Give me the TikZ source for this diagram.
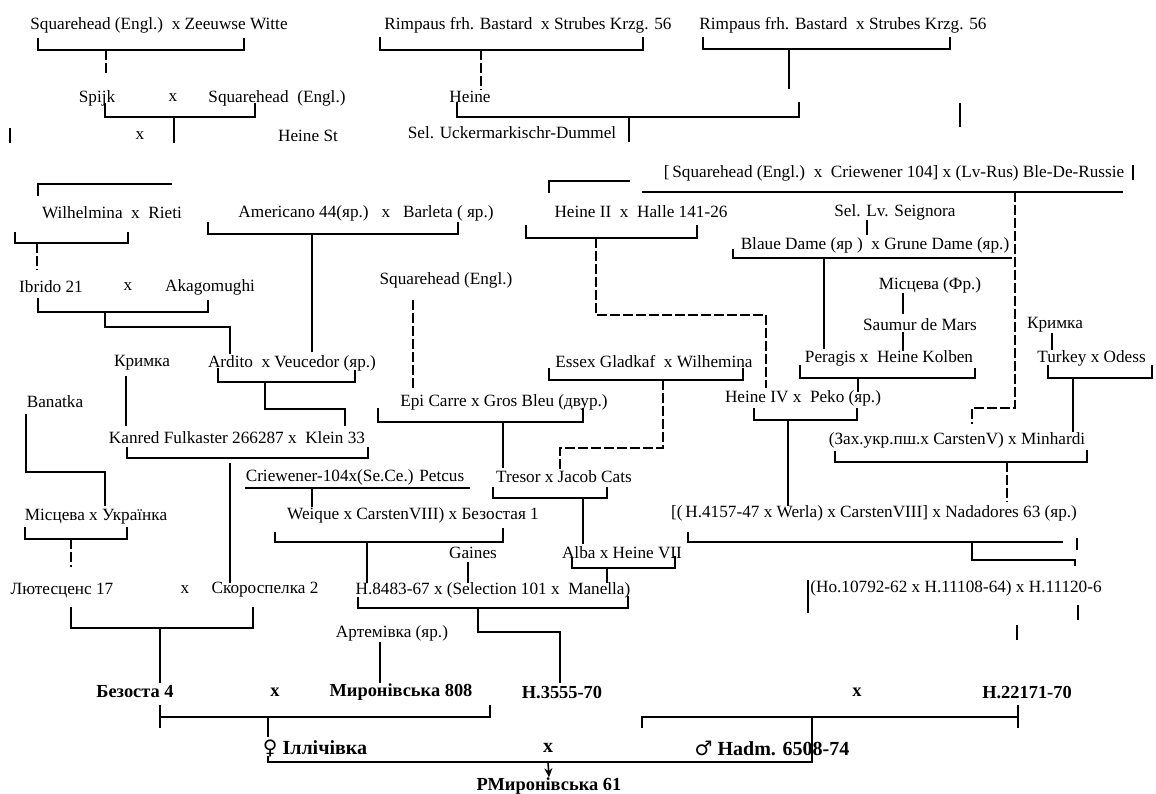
\documentclass[tikz,border=0pt]{standalone}
\usepackage{fontspec}
\setmainfont{Liberation Serif}
\newfontfamily\symfont{DejaVu Sans}
\usepackage{tikz}
\usetikzlibrary{arrows.meta}
\tikzset{
  breed/.style={inner sep=0pt, font=\fontsize{8.6}{10}\selectfont},
  parent/.style={inner sep=0pt, font=\fontsize{9.2}{11}\selectfont\bfseries},
  mainpar/.style={inner sep=0pt, font=\fontsize{10}{12}\selectfont\bfseries},
  link/.style={line width=0.6pt, color=black},
  dlink/.style={link, dash pattern=on 5pt off 1.5pt},
  arrow/.style={-{Stealth[length=4.5pt, width=4pt]}, line width=0.8pt, color=black}
}

\begin{document}
\begin{tikzpicture}[x=0.5pt, y=-0.5pt]
  \useasboundingbox (0,0) rectangle (1156,793);

  % Top rows
  \node[breed] (sqzw) at (159,25) {Squarehead (Engl.)\ \ x Zeeuwse Witte};
  \node[breed] (rimp1) at (528,25) {Rimpaus frh. Bastard\ \ x Strubes Krzg. 56};
  \node[breed] (rimp2) at (843,25) {Rimpaus frh. Bastard\ \ x Strubes Krzg. 56};
  \node[breed] (spijk) at (97,98) {Spijk};
  \node[breed] (x1) at (173,98) {x};
  \node[breed] (sqe1) at (277,98) {Squarehead\ \ (Engl.)};
  \node[breed] (heine) at (470,97) {Heine};
  \node[breed] (x2) at (140,136) {x};
  \node[breed] (heinest) at (308,136) {Heine St};
  \node[breed] (selu) at (512,133) {Sel. Uckermarkischr-Dummel};

  \draw[link] (10,128) -- (10,143);
  \draw[link] (38,38) -- (38,50) -- (244,50) -- (244,38);
  \draw[dlink] (106,50) -- (106,75);
  \draw[link] (105,103) -- (105,117) -- (255,117) -- (255,103);
  \draw[link] (174,117) -- (174,143);
  \draw[link] (380,37) -- (380,50) -- (643,50) -- (643,37);
  \draw[dlink] (481,50) -- (481,90);
  \draw[link] (457,102) -- (457,117) -- (799,117) -- (799,102);
  \draw[link] (629,117) -- (629,142);
  \draw[link] (703,37) -- (703,49) -- (950,49) -- (950,37);
  \draw[link] (789,49) -- (789,89);
  \draw[link] (960,103) -- (960,127);

  % Second block
  \node[breed] (sqcr) at (894,173) {[\,Squarehead (Engl.)\ \ x\ \ Criewener 104]\ x (Lv-Rus) Ble-De-Russie};
  \node[breed] (wilh) at (112,213) {Wilhelmina\ \ x\ \ Rieti};
  \node[breed] (amer) at (366,213) {Americano 44(яр.)\ \ \ x\ \ \ Barleta ( яр.)};
  \node[breed] (heine2) at (641,212) {Heine II\ \ x\ \ Halle 141-26};
  \node[breed] (sellv) at (895,212) {Sel. Lv. Seignora};
  \node[breed] (blaue) at (875,245) {Blaue Dame (яр )\ \ x Grune Dame (яр.)};
  \node[breed] (sqe2) at (446,280) {Squarehead (Engl.)};
  \node[breed] (misc1) at (930,285) {Місцева (Фр.)};
  \node[breed] (ibrido) at (51,287) {Ibrido 21};
  \node[breed] (x3) at (128,287) {x};
  \node[breed] (akago) at (210,287) {Akagomughi};
  \node[breed] (saumur) at (920,325) {Saumur de Mars};
  \node[breed] (krym2) at (1055,325) {Кримка};

  \draw[link] (1133,165) -- (1133,180);
  \draw[link] (38,196) -- (38,184) -- (172,184);
  \draw[link] (15,232) -- (15,243) -- (128,243) -- (128,232);
  \draw[dlink] (37,243) -- (37,270);
  \draw[link] (208,222) -- (208,234) -- (458,234) -- (458,222);
  \draw[link] (312,234) -- (312,352);
  \draw[link] (549,193) -- (549,181) -- (630,181);
  \draw[link] (642,192) -- (1123,192);
  \draw[dlink] (1015,192) -- (1015,408) -- (972,408) -- (972,424);
  \draw[link] (526,225) -- (526,238) -- (697,238) -- (697,225);
  \draw[dlink] (596,238) -- (596,315) -- (766,315) -- (766,388);
  \draw[link] (867,220) -- (867,235);
  \draw[link] (733,249) -- (733,258) -- (1012,258);
  \draw[link] (824,258) -- (824,349);
  \draw[link] (903,293) -- (903,314);
  \draw[link] (903,332) -- (903,351);
  \draw[dlink] (413,300) -- (413,390);
  \draw[link] (38,298) -- (38,312) -- (208,312) -- (208,300);
  \draw[link] (105,312) -- (105,327) -- (230,327) -- (230,354);
  \draw[link] (1052,333) -- (1052,350);

  % Third block
  \node[breed] (krym1) at (142,363) {Кримка};
  \node[breed] (ardito) at (292,363) {Ardito\ \ x Veucedor (яр.)};
  \node[breed] (essex) at (654,362) {Essex Gladkaf\ \ x Wilhemina};
  \node[breed] (peragis) at (889,358) {Peragis x\ \ Heine Kolben};
  \node[breed, anchor=west] (turkey) at (1037,358) {Turkey x Odess};
  \node[breed] (banatka) at (55,402) {Banatka};
  \node[breed] (epi) at (504,402) {Epi Carre x Gros Bleu (двур.)};
  \node[breed] (heine4) at (803,398) {Heine IV x\ \ Peko (яр.)};
  \node[breed] (kanred) at (237,438) {Kanred Fulkaster 266287 x\ \ Klein 33};
  \node[breed] (zakh) at (957,440) {(Зах.укр.пш.x CarstenV) x Minhardi};
  \node[breed] (criew) at (355,477) {Criewener-104x(Se.Ce.) Petcus};
  \node[breed] (tresor) at (564,477) {Tresor x Jacob Cats};

  \draw[link] (218,368) -- (218,382) -- (355,382) -- (355,370);
  \draw[link] (265,382) -- (265,409) -- (345,409) -- (345,426);
  \draw[link] (126,376) -- (126,426);
  \draw[link] (26,414) -- (26,472) -- (105,472) -- (105,506);
  \draw[link] (549,368) -- (549,380) -- (743,380) -- (743,368);
  \draw[dlink] (663,380) -- (663,448) -- (560,448) -- (560,470);
  \draw[link] (378,408) -- (378,422) -- (583,422) -- (583,408);
  \draw[link] (503,422) -- (503,468);
  \draw[link] (800,365) -- (800,378) -- (975,378) -- (975,368);
  \draw[link] (858,378) -- (858,392);
  \draw[link] (1048,365) -- (1048,378) -- (1152,378) -- (1152,365);
  \draw[link] (1073,378) -- (1073,432);
  \draw[link] (754,408) -- (754,420) -- (857,420) -- (857,408);
  \draw[link] (788,420) -- (788,506);
  \draw[link] (835,451) -- (835,462) -- (1087,462) -- (1087,450);
  \draw[dlink] (1007,462) -- (1007,502);
  \draw[link] (127,447) -- (127,458) -- (368,458) -- (368,447);
  \draw[link] (230,463) -- (230,583);
  \draw[link] (245,488) -- (470,488);
  \draw[link] (312,488) -- (312,507);
  \draw[link] (493,487) -- (493,498) -- (607,498) -- (607,487);
  \draw[link] (583,498) -- (583,544);

  % Fourth block
  \node[breed] (misc2) at (96,517) {Місцева x Українка};
  \node[breed] (weique) at (413,515) {Weique x CarstenVIII) x Безостая 1};
  \node[breed] (h4157) at (874,513) {[(\,H.4157-47 x Werla) x CarstenVIII] x Nadadores 63 (яр.)};
  \node[breed] (gaines) at (473,553) {Gaines};
  \node[breed] (alba) at (622,553) {Alba x Heine VII};
  \node[breed] (lutes) at (62,590) {Лютесценс 17};
  \node[breed] (x4) at (185,590) {x};
  \node[breed] (skoro) at (265,590) {Скороспелка 2};
  \node[breed] (h8483) at (493,590) {H.8483-67 x (Selection 101 x\ \ Manella)};
  \node[breed, anchor=west] (ho) at (810,588) {(Ho.10792-62 x H.11108-64) x H.11120-6};
  \node[breed] (artem) at (392,633) {Артемівка (яр.)};

  \draw[link] (25,527) -- (25,539) -- (127,539) -- (127,527);
  \draw[dlink] (71,539) -- (71,567);
  \draw[link] (275,532) -- (275,542) -- (503,542) -- (503,528);
  \draw[link] (367,542) -- (367,583);
  \draw[link] (688,532) -- (688,542) -- (1063,542);
  \draw[link] (1077,538) -- (1077,550);
  \draw[link] (972,542) -- (972,560) -- (1075,560) -- (1075,566);
  \draw[link] (468,562) -- (468,583);
  \draw[link] (572,558) -- (572,568) -- (675,568) -- (675,556);
  \draw[link] (607,568) -- (607,583);
  \draw[link] (358,597) -- (358,608) -- (628,608) -- (628,596);
  \draw[link] (478,608) -- (478,632) -- (560,632) -- (560,683);
  \draw[link] (808,580) -- (808,613);
  \draw[link] (1078,605) -- (1078,620);
  \draw[link] (1017,625) -- (1017,640);
  \draw[link] (71,607) -- (71,628) -- (253,628) -- (253,607);
  \draw[link] (160,628) -- (160,683);
  \draw[link] (380,642) -- (380,683);

  % Parents and cross
  \node[parent] (bez4) at (135,692) {Безоста 4};
  \node[parent] (x5) at (275,692) {x};
  \node[parent] (myr808) at (401,692) {Миронівська 808};
  \node[parent] (h3555) at (562,692) {H.3555-70};
  \node[parent] (x6) at (857,692) {x};
  \node[parent] (h22171) at (1027,692) {H.22171-70};
  \node[mainpar] (illich) at (315,748) {{\symfont\mdseries ♀} Іллічівка};
  \node[mainpar] (x7) at (548,748) {x};
  \node[mainpar] (hadm) at (772,748) {{\symfont\mdseries ♂} Hadm. 6508-74};
  \node[parent] (result) at (549,786) {РМиронівська 61};

  \draw[link] (160,705) -- (160,728);
  \draw[link] (160,717) -- (490,717) -- (490,705);
  \draw[link] (642,728) -- (642,717) -- (1018,717);
  \draw[link] (1018,705) -- (1018,728);
  \draw[link] (268,717) -- (268,737);
  \draw[link] (268,756) -- (268,762) -- (812,762) -- (812,717);
  \draw[arrow] (548,762) -- (result.north);
\end{tikzpicture}
\end{document}
